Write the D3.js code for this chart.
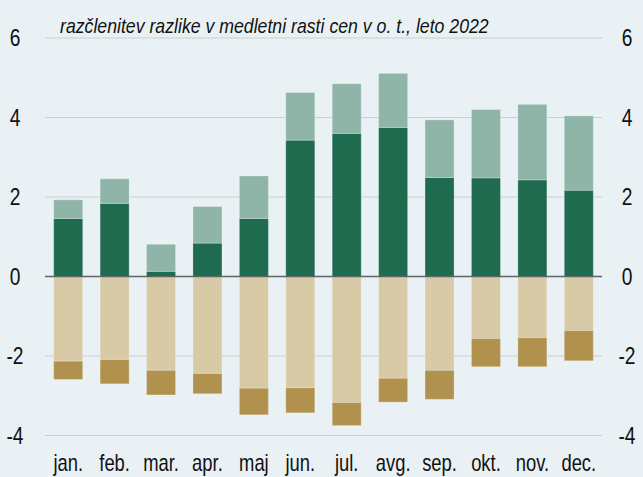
<!DOCTYPE html>
<html>
<head>
<meta charset="utf-8">
<script src="https://cdn.jsdelivr.net/npm/d3@7"></script>
<style>
  body { margin: 0; background: #e9f1f5; }
  svg { display: block; font-family: "Liberation Sans Narrow", "Arial Narrow", "Liberation Sans", sans-serif; }
</style>
</head>
<body>
<svg width="643" height="477"></svg>
<script>
const months = ['jan.', 'feb.', 'mar.', 'apr.', 'maj', 'jun.', 'jul.', 'avg.', 'sep.', 'okt.', 'nov.', 'dec.'];
const darkGreen = [1.46, 1.84, 0.13, 0.84, 1.46, 3.43, 3.60, 3.75, 2.49, 2.48, 2.43, 2.17];
const lightGreen = [0.47, 0.62, 0.68, 0.92, 1.07, 1.20, 1.25, 1.36, 1.45, 1.72, 1.90, 1.87];
const beige = [-2.13, -2.09, -2.36, -2.44, -2.81, -2.80, -3.17, -2.56, -2.36, -1.56, -1.54, -1.36];
const tan = [-0.46, -0.61, -0.62, -0.51, -0.67, -0.63, -0.58, -0.60, -0.73, -0.71, -0.73, -0.76];
const yTicks = [-4, -2, 0, 2, 4, 6];
const subtitle = 'razčlenitev razlike v medletni rasti cen v o. t., leto 2022';

const svg = d3.select('svg');
const margin = {top: 38, right: 41, bottom: 41.5, left: 45};
const width = +svg.attr('width') - margin.left - margin.right;
const height = +svg.attr('height') - margin.top - margin.bottom;
const g = svg.append('g')
  .attr('transform', `translate(${margin.left},${margin.top})`);

const squeeze = 0.8; // no narrow font installed, so squash the text horizontally

const x = d3.scaleBand()
  .domain(months)
  .range([0, width])
  .paddingInner(0.375)
  .paddingOuter(0.1875);

const y = d3.scaleLinear()
  .domain([-4, 6])
  .range([height, 0]);

// gridlines
g.selectAll('.grid')
  .data(yTicks.filter(d => d !== 0))
  .enter().append('line')
    .attr('x1', 0)
    .attr('x2', width)
    .attr('y1', d => y(d))
    .attr('y2', d => y(d))
    .attr('stroke', '#c9cfd2')
    .attr('stroke-width', 1.2);

// stacked series: positives stack up from 0, negatives down from 0
const series = [
  {vals: darkGreen, color: '#1f6b50', base: () => 0},
  {vals: lightGreen, color: '#8fb5a8', base: i => darkGreen[i]},
  {vals: beige, color: '#d8caa6', base: () => 0},
  {vals: tan, color: '#b0924e', base: i => beige[i]}
];

series.forEach(s => {
  g.append('g')
    .selectAll('rect')
    .data(s.vals)
    .enter().append('rect')
      .attr('x', (d, i) => x(months[i]))
      .attr('width', x.bandwidth())
      .attr('y', (d, i) => y(Math.max(s.base(i), s.base(i) + d)))
      .attr('height', (d, i) => Math.abs(y(s.base(i) + d) - y(s.base(i))))
      .attr('fill', s.color)
      .attr('stroke', 'rgba(255,255,255,0.25)')
      .attr('stroke-width', 1);
});

// zero line
g.append('line')
  .attr('x1', 0)
  .attr('x2', width)
  .attr('y1', y(0))
  .attr('y2', y(0))
  .attr('stroke', '#5f6466')
  .attr('stroke-width', 1.5);

// tick labels on both sides
function styleLabels(sel, size, xPos) {
  sel.attr('font-size', size)
    .attr('font-family', null)
    .attr('fill', '#111')
    .attr('text-anchor', 'middle')
    .attr('x', xPos / squeeze)
    .attr('transform', `scale(${squeeze},1)`);
}

const fmt = d => String(d); // plain hyphen minus like the original

g.append('g')
  .call(d3.axisLeft(y).tickValues(yTicks).tickFormat(fmt).tickSize(0))
  .call(a => a.select('.domain').remove())
  .selectAll('text')
    .call(styleLabels, 24, -30);

g.append('g')
  .attr('transform', `translate(${width},0)`)
  .call(d3.axisRight(y).tickValues(yTicks).tickFormat(fmt).tickSize(0))
  .call(a => a.select('.domain').remove())
  .selectAll('text')
    .call(styleLabels, 24, 25);

g.append('g')
  .attr('transform', `translate(0,${height})`)
  .call(d3.axisBottom(x).tickSize(0).tickPadding(19))
  .call(a => a.select('.domain').remove())
  .selectAll('text')
    .call(styleLabels, 23, 0);

svg.append('text')
  .attr('transform', `translate(60,33) scale(0.885,1)`)
  .attr('font-size', 20)
  .attr('font-style', 'italic')
  .attr('fill', '#111')
  .text(subtitle);
</script>
</body>
</html>
